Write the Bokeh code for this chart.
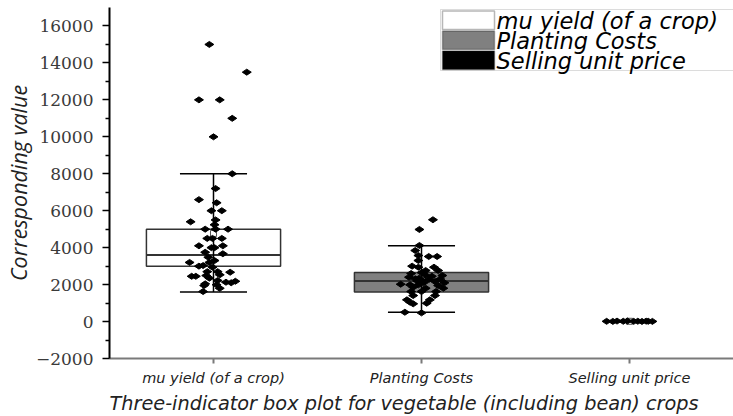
import math
from bokeh.plotting import figure
from bokeh.models import (Range1d, FixedTicker, Label, Title, BoxAnnotation,
                          ColumnDataSource)
from bokeh.embed import file_html
from bokeh.resources import INLINE

# ---------------- data ----------------
categories = ["mu yield (of a crop)", "Planting Costs", "Selling unit price"]
positions = [1, 2, 3]

q1 = [3000, 1600, 4]
q3 = [5000, 2650, 22]
median = [3600, 2200, 10]
mean = [4770, 2320, 14]
whisk_lo = [1600, 500, 2]
whisk_hi = [8000, 4100, 40]

yield_vals = [15000, 13500, 12000, 12000, 11000, 10000, 8000, 7200, 6600, 6430,
              6000, 6000, 5500, 5400, 5240, 5000, 5000, 5000, 4500, 4500,
              4500, 4100, 4000, 4000, 4100, 3750, 3670, 3480, 3300, 3200,
              3200, 3000, 3030, 2940, 2700, 2700, 2670, 2490, 2530, 2450,
              2450, 2350, 2220, 2130, 2100, 2180, 2040, 1990, 1800, 1625, 1950]
yield_off = [-0.02, 0.16, -0.07, 0.03, 0.09, 0.0, 0.09, 0.01, -0.07, 0.015,
             -0.01, 0.04, 0.01, -0.11, 0.005, -0.04, 0.01, 0.07, -0.03, -0.005,
             0.04, -0.07, -0.01, 0.005, 0.045, -0.04, 0.045, -0.025, 0.005, -0.02,
             -0.115, -0.07, -0.05, -0.005, -0.03, 0.02, 0.08, -0.035, 0.03, -0.105,
             -0.085, -0.02, 0.02, 0.06, 0.085, 0.105, -0.04, 0.015, 0.03, -0.05, -0.045]

cost_vals = [5510, 4984, 4117, 3846, 3575, 3521, 3521, 3304, 3000, 2941,
             2941, 2763, 2763, 2492, 2600, 2400, 2313, 2221, 2275, 2167,
             2096, 2021, 1988, 1988, 1950, 1858, 1804, 1804, 1625, 1625,
             1625, 1408, 1408, 1175, 1046, 960, 1175, 993, 505, 470,
             2500, 2350, 2450, 2200, 2100, 2300, 2650]
cost_off = [0.055, -0.01, -0.01, -0.03, -0.015, 0.035, 0.075, -0.015, -0.045, -0.015,
            0.06, 0.02, 0.08, 0.10, -0.05, -0.06, -0.03, 0.0, 0.035, 0.065,
            0.11, -0.10, -0.055, -0.015, 0.08, -0.04, 0.02, 0.105, -0.05, 0.0,
            0.07, -0.04, 0.065, -0.07, -0.055, -0.04, 0.04, 0.025, -0.08, 0.0,
            0.02, -0.01, 0.05, -0.02, 0.01, 0.09, 0.0]

price_vals = [12, 8, 25, 15, 30, 10, 18, 6, 22, 14, 9]
price_off = [-0.11, -0.08, -0.06, -0.03, -0.01, 0.02, 0.04, 0.06, 0.08, 0.09, 0.11]

y_ticks = [-2000, 0, 2000, 4000, 6000, 8000, 10000, 12000, 14000, 16000]
y_minor = [-1000, 1000, 3000, 5000, 7000, 9000, 11000, 13000, 15000]

x_title = "Three-indicator box plot for vegetable (including bean) crops"
y_title = "Corresponding value"

# ---------------- styles ----------------
box_width = [0.645, 0.645, 0.21]
box_fill = ["white", "#808080", "black"]
box_line = ["#333333", "#333333", "black"]

p = figure(width=733, height=416, output_backend="svg", toolbar_location=None,
           x_range=Range1d(0.5, 3.5), y_range=Range1d(-2000, 17000),
           min_border_left=109, min_border_right=0, min_border_top=7,
           min_border_bottom=58)
p.outline_line_color = None
p.grid.visible = False
p.background_fill_color = "white"
p.border_fill_color = "white"

src = ColumnDataSource(dict(x=positions, w=box_width, top=q3, bottom=q1,
                            fill=box_fill, line=box_line))
boxes = p.vbar(x="x", width="w", top="top", bottom="bottom", fill_color="fill",
               line_color="line", line_width=1.5, source=src)

# median lines
p.segment(x0=[x - w / 2 for x, w in zip(positions, box_width)], y0=median,
          x1=[x + w / 2 for x, w in zip(positions, box_width)], y1=median,
          line_color="#333333", line_width=2)
# whiskers
p.segment(x0=positions, y0=whisk_lo, x1=positions, y1=whisk_hi,
          line_color="black", line_width=1.5)
cap_x0 = [x - w / 4 for x, w in zip(positions, box_width)]
cap_x1 = [x + w / 4 for x, w in zip(positions, box_width)]
p.segment(x0=cap_x0, y0=whisk_lo, x1=cap_x1, y1=whisk_lo, line_color="black", line_width=1.5)
p.segment(x0=cap_x0, y0=whisk_hi, x1=cap_x1, y1=whisk_hi, line_color="black", line_width=1.5)
# mean markers
p.scatter(x=positions, y=mean, marker="square", size=6, fill_color="white",
          line_color="#555555", line_width=1)

# points
px = ([positions[0] + o for o in yield_off] + [positions[1] + o for o in cost_off]
      + [positions[2] + o for o in price_off])
py = yield_vals + cost_vals + price_vals
p.scatter(x=px, y=py, marker="diamond", size=9, angle=math.pi / 2,
          fill_color="black", line_color="black")

# legend (drawn by hand, screen units relative to the plot frame)
p.add_layout(BoxAnnotation(left=331, right=700, top=349, bottom=288,
                           left_units="screen", right_units="screen",
                           top_units="screen", bottom_units="screen",
                           fill_color="white", fill_alpha=1,
                           line_color="#8a8a8a", line_width=1, level="annotation"))
row_tops = [347.5, 327.5, 307.5]
for i, c in enumerate(categories):
    t = row_tops[i]
    p.add_layout(BoxAnnotation(left=333, right=385, top=t, bottom=t - 18.5,
                               left_units="screen", right_units="screen",
                               top_units="screen", bottom_units="screen",
                               fill_color=box_fill[i], fill_alpha=1,
                               line_color="#111111", line_width=1.5, level="annotation"))
    p.add_layout(Label(x=387, y=t - 9.5, x_units="screen", y_units="screen", text=c,
                       text_font="DejaVu Sans", text_font_style="italic",
                       text_font_size="22.5px", text_color="black",
                       text_align="left", text_baseline="middle", level="annotation"))

# y axis
ya = p.yaxis[0]
ya.ticker = FixedTicker(ticks=y_ticks, minor_ticks=y_minor)
ya.axis_line_color = "black"
ya.axis_line_width = 2
ya.major_tick_line_color = "black"
ya.major_tick_line_width = 1.5
ya.major_tick_out = 7
ya.major_tick_in = 0
ya.minor_tick_line_color = "black"
ya.minor_tick_line_width = 1.5
ya.minor_tick_out = 4
ya.minor_tick_in = 0
ya.major_label_text_font = "DejaVu Serif"
ya.major_label_text_font_size = "17px"
ya.major_label_text_color = "#3a3a3a"
ya.major_label_standoff = 9
ya.axis_label = y_title
ya.axis_label_text_font = "Open Sans"
ya.axis_label_text_font_style = "italic"
ya.axis_label_text_font_size = "21.5px"
ya.axis_label_text_color = "#222222"
ya.axis_label_standoff = 0

# x axis
xa = p.xaxis[0]
xa.ticker = FixedTicker(ticks=positions, minor_ticks=[])
xa.major_label_overrides = {pos: c for pos, c in zip(positions, categories)}
xa.axis_line_color = "#7a7a7a"
xa.axis_line_width = 2
xa.major_tick_line_color = "#7a7a7a"
xa.major_tick_line_width = 2
xa.major_tick_out = 5
xa.major_tick_in = 0
xa.minor_tick_out = 0
xa.major_label_text_font = "DejaVu Sans"
xa.major_label_text_font_style = "italic"
xa.major_label_text_font_size = "14.5px"
xa.major_label_text_color = "#222222"
xa.major_label_standoff = 6

title = Title(text=x_title, align="left", text_font="DejaVu Sans",
              text_font_style="italic", text_font_size="19.3px",
              text_color="#222222", standoff=3)
p.add_layout(title, "below")

open("out.html", "w").write(file_html(p, INLINE))
